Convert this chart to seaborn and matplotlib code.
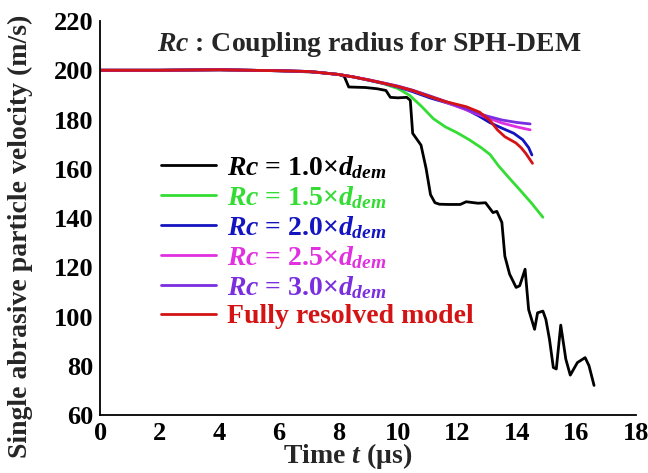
import numpy as np
import pandas as pd
import matplotlib
matplotlib.use("Agg")
import matplotlib.pyplot as plt
import seaborn as sns

# ---------------- data ----------------
t_rc10 = [0, 2, 4, 6, 7.3, 8.0, 8.2, 8.35, 8.9, 9.3, 9.6, 9.75, 10.0, 10.3, 10.42, 10.5,
          10.78, 10.95, 11.1, 11.25, 11.4, 11.7, 12.1, 12.3, 12.7, 12.95, 13.2, 13.33,
          13.5, 13.6, 13.76, 13.98, 14.1, 14.28, 14.4, 14.6, 14.7, 14.88, 14.98, 15.1,
          15.23, 15.33, 15.48, 15.65, 15.8, 16.04, 16.3, 16.43, 16.6]
v_rc10 = [200, 200, 200.2, 199.8, 199.2, 198.3, 197.5, 193.2, 193.0, 192.5, 191.8, 189.0,
          188.8, 189.0, 187.8, 174.4, 169.6, 160.2, 149.5, 146.2, 145.6, 145.5, 145.5,
          146.6, 146.0, 146.2, 142.2, 142.7, 138.2, 124.5, 117.2, 111.8, 112.5, 119.2,
          102.8, 94.8, 101.5, 102.2, 98.8, 90.8, 79.3, 78.7, 96.5, 82.7, 76.2, 81.3, 83.3,
          80.0, 72.0]

t_rc15 = [0, 2, 4, 6, 7, 8, 8.5, 9, 9.5, 10.0, 10.4, 10.8, 11.2, 11.6, 12.0, 12.4, 12.8,
          13.1, 13.4, 13.8, 14.1, 14.5, 14.88]
v_rc15 = [200, 200, 200.2, 199.8, 199.5, 198.3, 197.3, 196.0, 194.6, 192.6, 189.8, 185.3,
          180.3, 177.0, 174.6, 171.8, 168.6, 165.8, 161.0, 155.5, 151.5, 146.0, 140.3]

t_rc20 = [0, 2, 4, 6, 7, 8, 8.5, 9, 9.5, 10.0, 10.5, 11.1, 11.7, 12.25, 12.7, 13.1, 13.5,
          13.9, 14.2, 14.4, 14.51]
v_rc20 = [200, 200, 200.2, 199.8, 199.5, 198.3, 197.3, 196.0, 194.7, 193.2, 191.3, 188.7,
          186.6, 184.4, 181.6, 178.7, 176.5, 174.4, 171.8, 168.6, 165.6]

t_rc25 = [0, 2, 4, 6, 7, 8, 8.5, 9, 9.5, 10.0, 10.5, 11.0, 11.5, 12.0, 12.5, 13.0, 13.5,
          14.0, 14.45]
v_rc25 = [200, 200, 200.2, 199.8, 199.5, 198.3, 197.3, 196.1, 194.8, 193.4, 191.7, 189.7,
          187.5, 185.3, 183.0, 180.8, 178.6, 177.0, 175.8]

t_rc30 = [0, 2, 4, 6, 7, 8, 8.5, 9, 9.5, 10.0, 10.5, 11.0, 11.5, 12.0, 12.5, 13.0, 13.5,
          14.0, 14.45]
v_rc30 = [200, 200, 200.2, 199.8, 199.5, 198.3, 197.3, 196.2, 194.9, 193.6, 191.9, 189.9,
          187.8, 185.6, 183.3, 181.4, 179.8, 178.8, 178.2]

t_full = [0, 2, 4, 6, 7, 8, 8.5, 9, 9.5, 10.0, 10.5, 11.0, 11.6, 12.3, 12.75, 13.1, 13.35,
          13.6, 13.97, 14.15, 14.3, 14.53]
v_full = [200, 200, 200.2, 199.8, 199.5, 198.3, 197.3, 196.1, 194.8, 193.4, 191.8, 189.6,
          187.3, 185.2, 183.0, 179.6, 175.8, 173.0, 170.5, 168.5, 166.3, 162.2]

labels = [r"$Rc$ = 1.0$\times$$d_{dem}$",
          r"$Rc$ = 1.5$\times$$d_{dem}$",
          r"$Rc$ = 2.0$\times$$d_{dem}$",
          r"$Rc$ = 2.5$\times$$d_{dem}$",
          r"$Rc$ = 3.0$\times$$d_{dem}$",
          "Fully resolved model"]
colors = ["#000000", "#33dd33", "#1414c0", "#e030e0", "#7a2ee0", "#d41414"]
series_t = [t_rc10, t_rc15, t_rc20, t_rc25, t_rc30, t_full]
series_v = [v_rc10, v_rc15, v_rc20, v_rc25, v_rc30, v_full]

x_ticks = list(range(0, 19, 2))
y_ticks = list(range(60, 221, 20))

# ---------------- style ----------------
sns.set_style("white")
plt.rcParams["font.family"] = ["Liberation Serif", "DejaVu Serif"]
plt.rcParams["font.weight"] = "bold"
plt.rcParams["mathtext.fontset"] = "custom"
plt.rcParams["mathtext.rm"] = "Liberation Serif"
plt.rcParams["mathtext.it"] = "Liberation Serif:italic:bold"
plt.rcParams["mathtext.bf"] = "Liberation Serif:bold"

fig = plt.figure(figsize=(6.48, 4.73), dpi=100)
ax = fig.add_axes([0.155, 0.1226, 0.826, 0.833])

for t, v, c, lab in zip(series_t, series_v, colors, labels):
    df = pd.DataFrame({"t": t, "v": v})
    sns.lineplot(data=df, x="t", y="v", color=c, linewidth=2.0, label=lab,
                 ax=ax, sort=False, estimator=None)

ax.set_xlim(0, 18)
ax.set_ylim(60, 220)
ax.set_xticks(x_ticks)
ax.set_yticks(y_ticks)
for s in ["top", "right"]:
    ax.spines[s].set_visible(False)
for s in ["left", "bottom"]:
    ax.spines[s].set_linewidth(1.3)
    ax.spines[s].set_color("black")
ax.tick_params(direction="in", length=7, width=1.3, labelsize=19, pad=5, colors="black")
for lbl in ax.get_xticklabels() + ax.get_yticklabels():
    lbl.set_fontweight("bold")

ax.set_xlabel(r"Time $t$ (μs)", fontsize=20, fontweight="bold")
ax.set_ylabel("Single abrasive particle velocity (m/s)", fontsize=20, fontweight="bold")
ax.xaxis.set_label_coords(0.462, -0.066)
ax.yaxis.set_label_coords(-0.126, 0.454)

ax.text(9.05, 210.3, r"$Rc$ : Coupling radius for SPH-DEM", fontsize=20,
        fontweight="bold", ha="center", va="center")

leg = ax.legend(loc="upper left", bbox_to_anchor=(0.092, 0.69), frameon=False,
                fontsize=20, handlelength=2.0, handletextpad=0.4, labelspacing=0.11,
                borderaxespad=0.0, labelcolor="linecolor")
for txt in leg.get_texts():
    txt.set_fontweight("bold")

fig.savefig("out.png", dpi=100)
